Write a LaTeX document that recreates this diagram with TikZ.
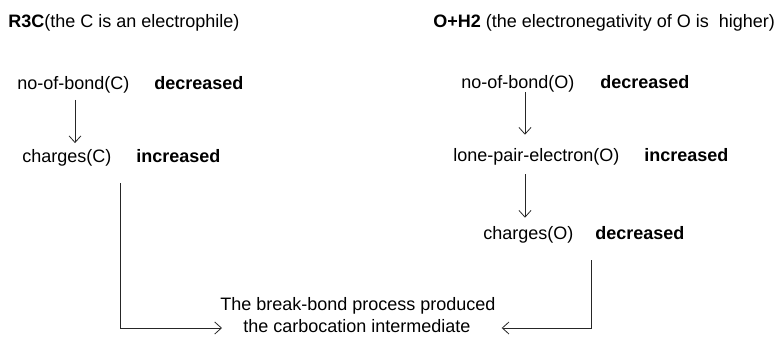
\documentclass[tikz,border=0pt]{standalone}
\usepackage{fontspec}
\setmainfont{Liberation Sans}
\usetikzlibrary{arrows.meta}

\begin{document}
\begin{tikzpicture}[x=0.75pt,y=-0.75pt,
	lbl/.style={anchor=west,inner sep=0pt,text height=9pt,text depth=3pt,font=\fontsize{13.5}{16}\selectfont},
	flow/.style={draw=black!85,line width=0.6pt,-{Straight Barb[length=5pt,width=9pt]},shorten <=5pt,shorten >=5pt}]
	\useasboundingbox (0,0) rectangle (777,336);

	\node[lbl] (ttlC) at (8, 23)     {\textbf{R3C}(the C is an electrophile)};
	\node[lbl] (ttlO) at (433, 23)   {\textbf{O+H2} (the electronegativity of O is\ \ higher)};

	\node[lbl] (nobC) at (17, 85)    {no-of-bond(C)};
	\node[lbl] (decC) at (154, 85)   {\textbf{decreased}};
	\node[lbl] (chC) at (22, 158)    {charges(C)};
	\node[lbl] (incC) at (136, 158)  {\textbf{increased}};

	\node[lbl] (nobO) at (461, 84)   {no-of-bond(O)};
	\node[lbl] (decO) at (600, 84)   {\textbf{decreased}};
	\node[lbl] (lpO) at (453, 157)   {lone-pair-electron(O)};
	\node[lbl] (incO) at (644, 157)  {\textbf{increased}};
	\node[lbl] (chO) at (483, 235)   {charges(O)};
	\node[lbl] (decO2) at (595, 235) {\textbf{decreased}};

	\node[lbl] (res1) at (220, 306)  {The break-bond process produced};
	\node[lbl] (res2) at (243, 328)  {the carbocation intermediate};

	\coordinate (colC) at (75, 0);
	\coordinate (colO) at (525, 0);
	\coordinate (colL) at (120, 0);
	\coordinate (colR) at (591, 0);

	\draw[flow] (nobC.south -| colC) -- (chC.north -| colC);
	\draw[flow,shorten <=0pt,shorten >=10.5pt] (nobO.south -| colO) -- (lpO.north -| colO);
	\draw[flow,shorten <=6.75pt,shorten >=6.75pt] (lpO.south -| colO) -- (chO.north -| colO);
	\draw[flow,shorten <=12.75pt,shorten >=-1.5pt] (chC.south -| colL) |- (res1.west |- res2.west);
	\draw[flow,shorten <=12.75pt,shorten >=4.5pt] (decO2.south -| colR) |- (res1.east |- res2.east);
\end{tikzpicture}
\end{document}
